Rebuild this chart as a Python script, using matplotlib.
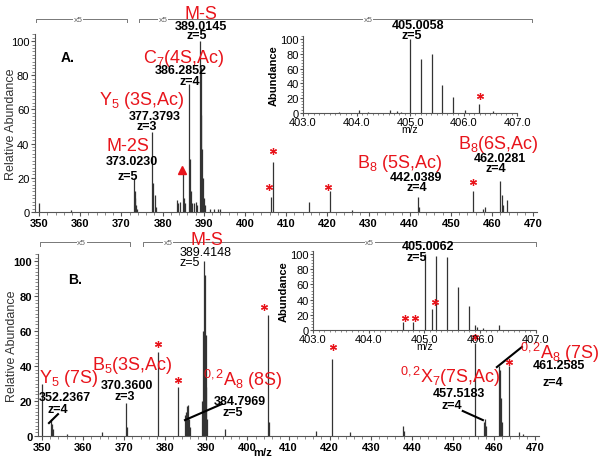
import matplotlib
matplotlib.use("Agg")
import matplotlib.pyplot as plt
from matplotlib.ticker import MultipleLocator, FormatStrFormatter

plt.rcParams['font.family'] = ['Liberation Sans', 'DejaVu Sans']
plt.rcParams['mathtext.fontset'] = 'custom'
plt.rcParams['mathtext.rm'] = 'Liberation Sans'
plt.rcParams['mathtext.it'] = 'Liberation Sans:italic'

# panel A main spectrum (m/z, relative abundance)
a_mz = [350.1, 357.8, 373.02, 373.22, 373.42, 373.62, 373.82,
        377.38, 377.71, 378.05, 378.38,
        383.5, 383.8, 384.3, 384.95, 385.25, 385.5,
        386.29, 386.54, 386.79, 387.04, 387.6, 388.0, 388.3,
        389.01, 389.21, 389.41, 389.61, 389.81, 390.01, 390.2,
        391.5, 392.5, 393.5, 394.0,
        406.4, 406.9, 415.5, 420.7, 426.0, 442.04, 442.3,
        455.3, 457.8, 458.2, 462.03, 462.28, 462.53, 463.5]
a_int = [5, 1, 20, 12, 8, 4, 2,
         47, 17, 10, 3,
         7, 5, 6, 22, 8, 5,
         75, 31, 12, 5, 5, 6, 4,
         100, 85, 57, 37, 20, 8, 4,
         2, 2, 2, 2,
         9, 29, 6, 12, 1, 9, 3,
         12, 2, 3, 18, 10, 4, 7]

# panel A inset (403-407)
ia_mz = [403.67, 404.05, 404.22, 404.63, 404.75, 404.84,
         405.006, 405.206, 405.406, 405.606, 405.806, 406.02, 406.29, 406.56]
ia_int = [1, 4, 2, 4, 3, 2, 100, 73, 80, 38, 22, 4, 12, 3]

# panel B main spectrum
b_mz = [350.1, 352.24, 352.49, 352.74, 356.0, 364.5, 370.36, 370.69,
        378.2, 383.0,
        384.8, 385.05, 385.3, 385.55, 385.8, 386.05,
        389.01, 389.21, 389.41, 389.61, 389.81, 390.01, 390.21,
        394.5, 405.0, 405.2, 416.8, 420.7, 425.0, 437.8, 438.2,
        455.4, 457.5, 457.75, 458.0,
        461.26, 461.51, 461.76, 462.0, 463.6, 466.0, 467.0]
b_int = [30, 10, 7, 4, 1, 2, 19, 5,
         48, 28,
         12, 14, 17, 18, 10, 5,
         20, 60, 100, 92, 58, 28, 10,
         4, 69, 8, 3, 44, 2, 6, 3,
         53, 8, 10, 6,
         40, 38, 22, 8, 40, 2, 1]

# panel B inset
ib_mz = [404.62, 404.8, 405.006, 405.14, 405.206, 405.406, 405.606,
         405.806, 405.9, 405.95, 406.05, 406.33]
ib_int = [10, 10, 100, 28, 98, 96, 56, 31, 6, 4, 3, 6]

PEAK = '#333333'
RED = '#e8141b'

fig = plt.figure(figsize=(6.04, 4.64), dpi=100)


def style_main(ax, bold_y, ylab_x):
    ax.set_xlim(349, 471)
    ax.set_ylim(0, 104)
    for s in ['top', 'right']:
        ax.spines[s].set_visible(False)
    for s in ['left', 'bottom']:
        ax.spines[s].set_color('#555555')
    ax.xaxis.set_major_locator(MultipleLocator(10))
    ax.xaxis.set_minor_locator(MultipleLocator(2))
    ax.yaxis.set_major_locator(MultipleLocator(20))
    ax.yaxis.set_minor_locator(MultipleLocator(2))
    ax.set_xticks(range(350, 471, 10))
    ax.tick_params(which='major', length=3, labelsize=8, pad=1, color='#555555')
    ax.tick_params(which='minor', length=2, color='#777777', width=0.6)
    for t in ax.get_xticklabels():
        t.set_fontweight('bold')
    if bold_y:
        for t in ax.get_yticklabels():
            t.set_fontweight('bold')
    ax.set_ylabel('Relative Abundance', fontsize=9, color='#333333')
    ax.yaxis.set_label_coords(ylab_x, 0.5)


def style_inset(ax):
    ax.set_xlim(403, 407)
    ax.set_ylim(0, 104)
    ax.patch.set_alpha(0)
    for s in ['top', 'right']:
        ax.spines[s].set_visible(False)
    for s in ['left', 'bottom']:
        ax.spines[s].set_color('#555555')
    ax.set_xticks([403, 404, 405, 406, 407])
    ax.xaxis.set_major_formatter(FormatStrFormatter('%.1f'))
    ax.xaxis.set_minor_locator(MultipleLocator(0.1))
    ax.yaxis.set_major_locator(MultipleLocator(20))
    ax.yaxis.set_minor_locator(MultipleLocator(4))
    ax.tick_params(which='major', length=2, labelsize=8, pad=1, color='#555555')
    ax.tick_params(which='minor', length=1.5, color='#777777', width=0.6)
    ax.set_ylabel('Abundance', fontsize=8, fontweight='bold', labelpad=1)
    ax.set_xlabel('m/z', fontsize=7.5, labelpad=-2)


def bracket(ax, y, segs, labels):
    for x0, x1 in segs:
        ax.plot([x0, x0, x1, x1], [y - 2, y, y, y - 2], color='#777777',
                lw=0.7, clip_on=False)
    for x in labels:
        ax.text(x, y, 'x5', fontsize=6, color='#666666', ha='center', va='center',
                bbox=dict(facecolor='white', edgecolor='none', pad=0.6), clip_on=False)


def star(ax, x, y):
    ax.plot(x, y, marker=(6, 2, 0), ms=5, mew=0.9, color=RED, clip_on=False)


# ---------------- panel A ----------------
axA = fig.add_axes([0.0578, 0.541, 0.832, 0.383])
axA.vlines(a_mz, 0, a_int, color=PEAK, lw=0.9)
style_main(axA, False, -0.036)
bracket(axA, 112.9, [(349.3, 371.4), (374.3, 469.7)], [359.5, 380.1, 429.9])
axA.text(357, 90.6, 'A.', fontsize=10, fontweight='bold', ha='center', va='center')

axA.text(389.3, 116, 'M-S', color=RED, fontsize=13, ha='center', va='center')
axA.text(389.3, 109, '389.0145', fontsize=9, fontweight='bold', ha='center', va='center')
axA.text(388.2, 103.5, 'z=5', fontsize=9, fontweight='bold', ha='center', va='center')
axA.text(385.2, 90.6, 'C$_7$(4S,Ac)', color=RED, fontsize=13, ha='center', va='center')
axA.text(384.5, 83, '386.2852', fontsize=9, fontweight='bold', ha='center', va='center')
axA.text(386.7, 76.6, 'z=4', fontsize=9, fontweight='bold', ha='center', va='center')
axA.text(375, 66, 'Y$_5$ (3S,Ac)', color=RED, fontsize=13, ha='center', va='center')
axA.text(378.2, 56, '377.3793', fontsize=9, fontweight='bold', ha='center', va='center')
axA.text(376.2, 50.3, 'z=3', fontsize=9, fontweight='bold', ha='center', va='center')
axA.text(371.6, 39, 'M-2S', color=RED, fontsize=13, ha='center', va='center')
axA.text(372.6, 29.8, '373.0230', fontsize=9, fontweight='bold', ha='center', va='center')
axA.text(371.6, 21, 'z=5', fontsize=9, fontweight='bold', ha='center', va='center')
axA.plot(384.6, 24.7, marker='^', ms=6, color=RED, mec=RED)
axA.text(437.5, 29, 'B$_8$ (5S,Ac)', color=RED, fontsize=13, ha='center', va='center')
axA.text(441.6, 20.6, '442.0389', fontsize=9, fontweight='bold', ha='center', va='center')
axA.text(441.6, 14.8, 'z=4', fontsize=9, fontweight='bold', ha='center', va='center')
axA.text(461.5, 40, 'B$_8$(6S,Ac)', color=RED, fontsize=13, ha='center', va='center')
axA.text(462, 31.5, '462.0281', fontsize=9, fontweight='bold', ha='center', va='center')
axA.text(461, 25.6, 'z=4', fontsize=9, fontweight='bold', ha='center', va='center')
for x, y in [(405.8, 14.6), (406.8, 35.7), (420.1, 14.6), (455.3, 17.5)]:
    star(axA, x, y)

insA = fig.add_axes([0.5017, 0.7543, 0.3543, 0.166])
insA.vlines(ia_mz, 0, ia_int, color=PEAK, lw=0.9)
style_inset(insA)
insA.text(405.15, 119, '405.0058', fontsize=9, fontweight='bold', ha='center', va='center')
insA.text(405.04, 105, 'z=5', fontsize=9, fontweight='bold', ha='center', va='center')
star(insA, 406.31, 23)

# ---------------- panel B ----------------
axB = fig.add_axes([0.0627, 0.0582, 0.830, 0.392])
axB.vlines(b_mz, 0, b_int, color=PEAK, lw=0.9)
style_main(axB, True, -0.040)
bracket(axB, 110.9, [(349.5, 371.4), (374.6, 470.2)], [359.7, 380.7, 429.8])
axB.text(358, 90, 'B.', fontsize=10, fontweight='bold', ha='center', va='center')
axB.text(403.8, -9.1, 'm/z', fontsize=8, fontweight='bold', ha='center', va='center')

axB.text(390.1, 112.6, 'M-S', color=RED, fontsize=13, ha='center', va='center')
axB.text(389.7, 105, '389.4148', fontsize=9, ha='center', va='center')
axB.text(386.0, 99.4, 'z=5', fontsize=9, ha='center', va='center')
axB.text(356.6, 33.7, 'Y$_5$ (7S)', color=RED, fontsize=13, ha='center', va='center')
axB.text(355.6, 22.3, '352.2367', fontsize=9, fontweight='bold', ha='center', va='center')
axB.text(353.9, 15.4, 'z=4', fontsize=9, fontweight='bold', ha='center', va='center')
axB.plot([353.9, 351.7], [12.5, 7.4], color='k', lw=1.5)
axB.text(371.9, 41, 'B$_5$(3S,Ac)', color=RED, fontsize=13, ha='center', va='center')
axB.text(370.7, 29, '370.3600', fontsize=9, fontweight='bold', ha='center', va='center')
axB.text(370.2, 23, 'z=3', fontsize=9, fontweight='bold', ha='center', va='center')
axB.text(398.9, 32.6, '$^{0,2}$A$_8$ (8S)', color=RED, fontsize=13, ha='center', va='center')
axB.text(398.2, 20, '384.7969', fontsize=9, fontweight='bold', ha='center', va='center')
axB.text(396.5, 13.7, 'z=5', fontsize=9, fontweight='bold', ha='center', va='center')
axB.plot([393.8, 384.8], [18.3, 9.1], color='k', lw=1.5)
axB.text(449.5, 34.3, '$^{0,2}$X$_7$(7S,Ac)', color=RED, fontsize=13, ha='center', va='center')
axB.text(451.5, 24.6, '457.5183', fontsize=9, fontweight='bold', ha='center', va='center')
axB.text(449.8, 17.7, 'z=4', fontsize=9, fontweight='bold', ha='center', va='center')
axB.plot([452.4, 457.3], [14.3, 9.1], color='k', lw=1.5)
axB.text(476, 48, '$^{0,2}$A$_8$ (7S)', color=RED, fontsize=13, ha='center', va='center')
axB.text(475.8, 40.6, '461.2585', fontsize=9, fontweight='bold', ha='center', va='center')
axB.text(474.3, 30.9, 'z=4', fontsize=9, fontweight='bold', ha='center', va='center')
axB.plot([466.8, 460.7], [50.9, 39.4], color='k', lw=1.5, clip_on=False)
for x, y in [(378.2, 52.6), (383.1, 32), (404.0, 73.7), (420.8, 50.9),
             (455.4, 56.6), (463.6, 42.3)]:
    star(axB, x, y)

insB = fig.add_axes([0.5182, 0.2866, 0.3692, 0.1703])
insB.vlines(ib_mz, 0, ib_int, color=PEAK, lw=0.9)
style_inset(insB)
insB.text(405.06, 110, '405.0062', fontsize=9, fontweight='bold', ha='center', va='center')
insB.text(404.87, 96, 'z=5', fontsize=9, fontweight='bold', ha='center', va='center')
for x, y in [(404.65, 16), (404.83, 16), (405.19, 37)]:
    star(insB, x, y)

fig.savefig('out.png', dpi=100)
